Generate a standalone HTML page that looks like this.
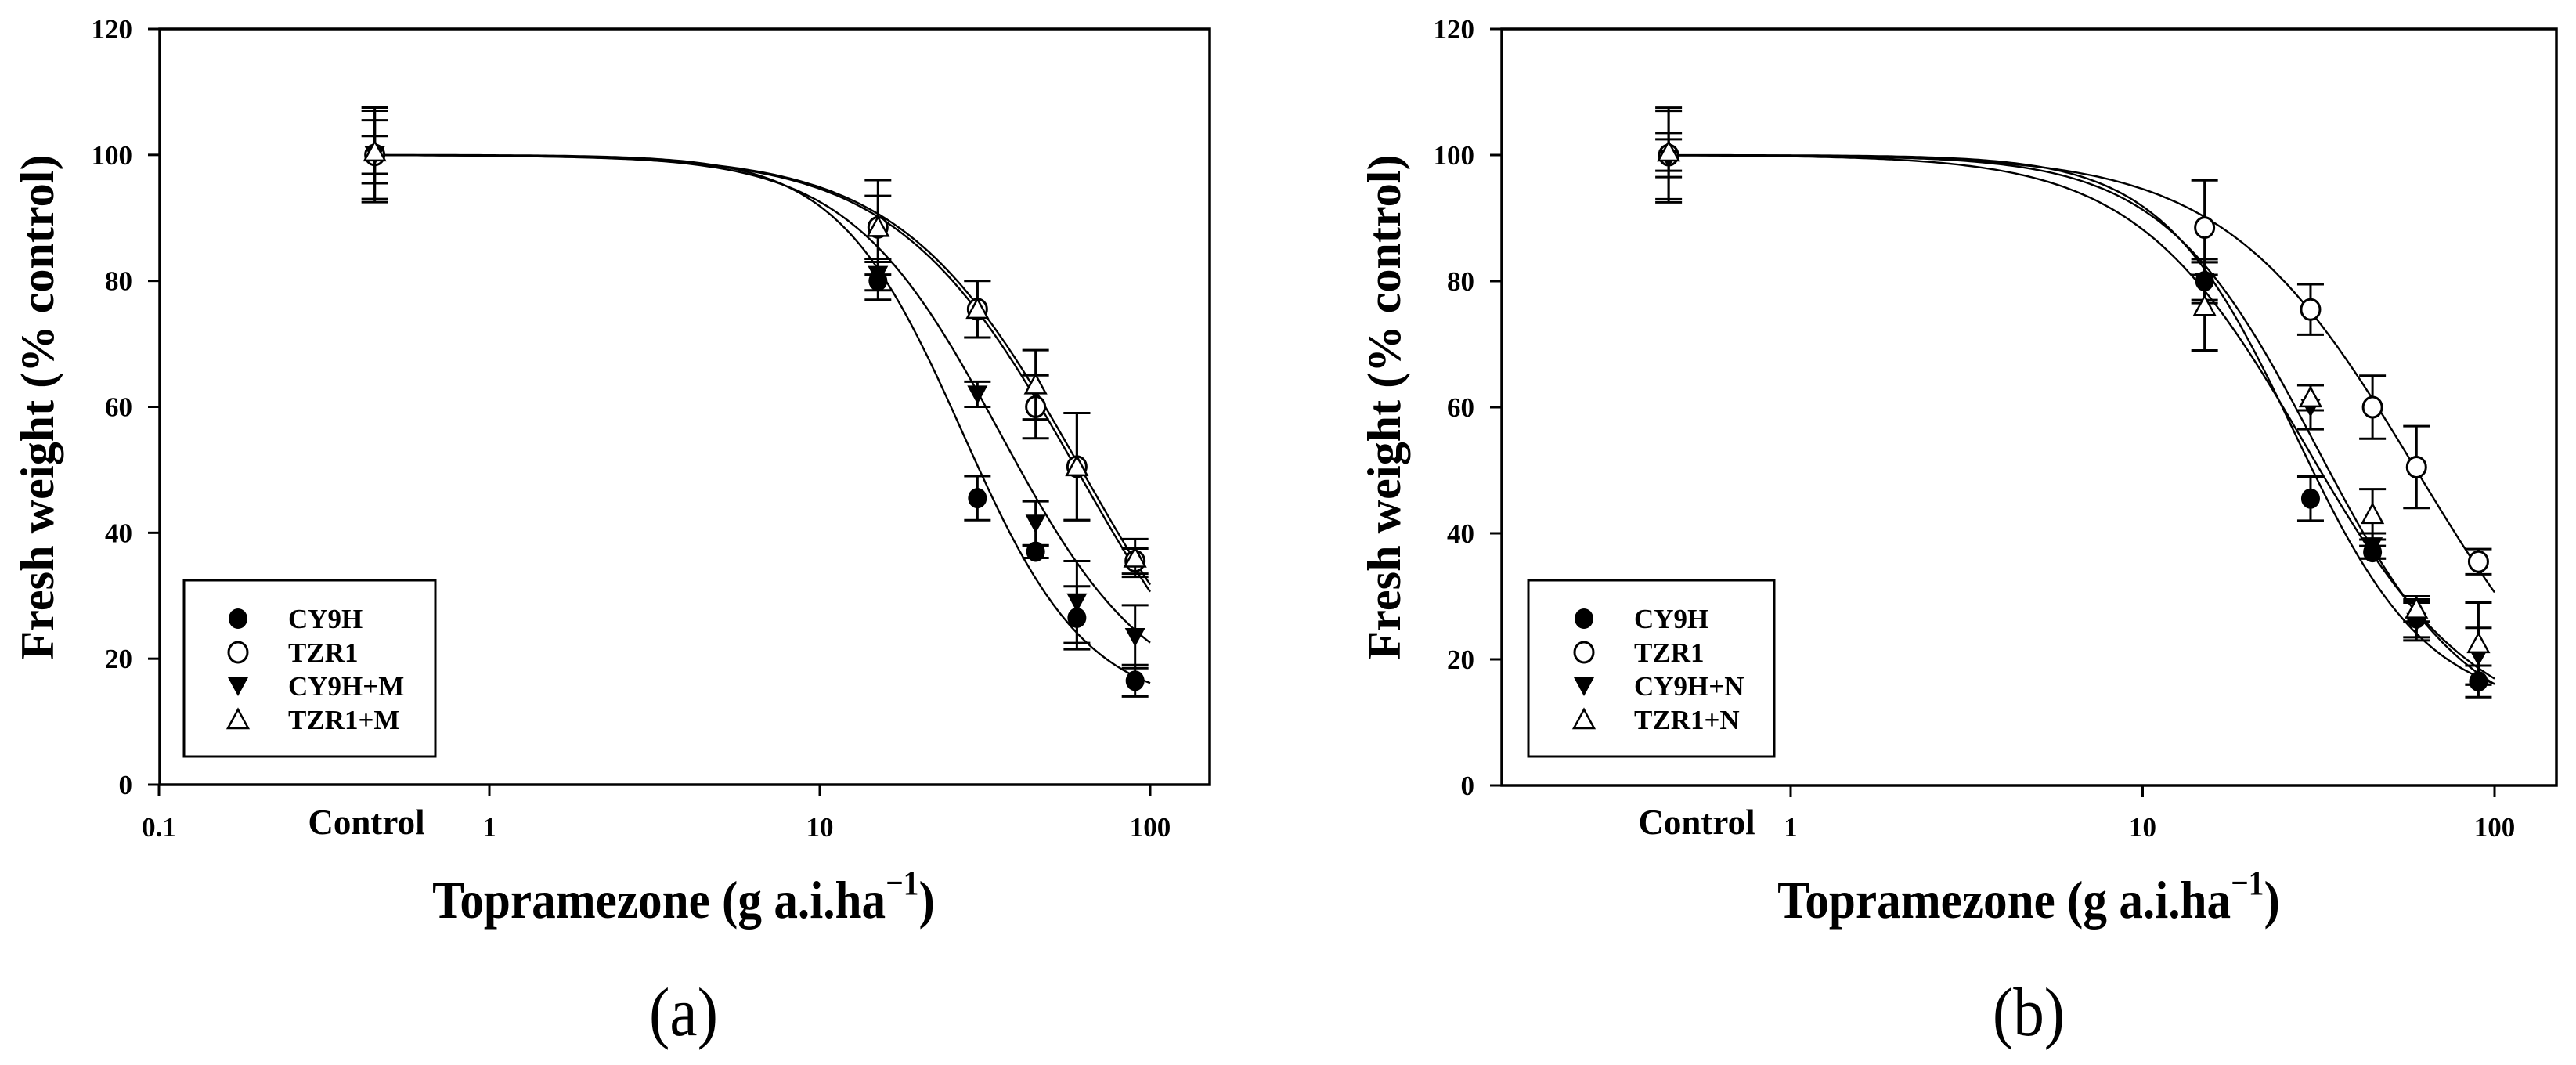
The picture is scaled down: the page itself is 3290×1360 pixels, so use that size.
<!DOCTYPE html>
<html><head><meta charset="utf-8"><style>
html,body{margin:0;padding:0;background:#fff;}
svg{display:block;}
text{font-family:"Liberation Serif",serif;fill:#000;}
</style></head>
<body>
<svg id="fig" width="3290" height="1360" viewBox="0 0 3290 1360" xmlns="http://www.w3.org/2000/svg"></svg>
<script>
// ---- data ----
const doses = [0.45, 15, 30, 45, 60, 90];
const yTicks = [0, 20, 40, 60, 80, 100, 120];
const xTicksA = [0.1, 1, 10, 100];
const xTicksB = [1, 10, 100];
const seriesA = ["CY9H", "TZR1", "CY9H+M", "TZR1+M"];
const seriesB = ["CY9H", "TZR1", "CY9H+N", "TZR1+N"];
const markers = ["filled-circle", "open-circle", "filled-tri-down", "open-tri-up"];
const a_cy9h = [100, 80, 45.5, 37, 26.5, 16.5];
const a_cy9h_err = [7, 3, 3.5, 1, 5, 2.5];
const a_tzr1 = [100, 88.5, 75.5, 60, 50.5, 35.5];
const a_tzr1_err = [7.5, 7.5, 4.5, 5, 8.5, 2];
const a_cy9hm = [100, 81, 62, 41.5, 29, 23.5];
const a_cy9hm_err = [3, 2.5, 2, 3.5, 6.5, 5];
const a_tzr1m = [100.5, 88.5, 75.5, 63.5, 50.5, 36];
const a_tzr1m_err = [5, 5, 4.5, 5.5, 8.5, 3];
const b_cy9h = [100, 80, 45.5, 37, 26.5, 16.5];
const b_cy9h_err = [7, 3, 3.5, 1, 3, 2.5];
const b_tzr1 = [100, 88.5, 75.5, 60, 50.5, 35.5];
const b_tzr1_err = [7.5, 7.5, 4, 5, 6.5, 2];
const b_cy9hn = [99.5, 80, 60, 38, 26, 20.5];
const b_cy9hn_err = [3, 3.5, 3.5, 2, 3, 4.5];
const b_tzr1n = [100.5, 76, 61.5, 43, 28, 22.5];
const b_tzr1n_err = [3, 7, 2, 4, 2, 6.5];
// fitted curves: [lower, upper, ED50, slope]
const fitA = [[12, 100, 27, 2.3], [0, 100, 60, 1.6], [12, 100, 35, 1.9], [0, 100, 62, 1.6]];
const fitB = [[12, 100, 27, 2.3], [0, 100, 60, 1.6], [8, 100, 31, 2.0], [8, 100, 29, 1.8]];

const NS = "http://www.w3.org/2000/svg";
const svg = document.getElementById("fig");
function el(tag, attrs, parent, txt) {
  const e = document.createElementNS(NS, tag);
  for (const k in attrs) e.setAttribute(k, attrs[k]);
  if (txt !== undefined) e.textContent = txt;
  (parent || svg).appendChild(e);
  return e;
}

function panel(cfg) {
  const g = el("g", {});
  
  
  const X = v => cfg.x1 + cfg.dec * Math.log10(v);
  const Y = v => cfg.bottom - (cfg.bottom - cfg.top) * v / 120;
  const fr = el("rect", {x: cfg.left, y: cfg.top, width: cfg.right - cfg.left, height: cfg.bottom - cfg.top, fill: "none", stroke: "#000", "stroke-width": 3.5}, g);
  
  
  yTicks.forEach(t => {
    const tk = el("line", {x1: cfg.left - 15, x2: cfg.left, y1: Y(t), y2: Y(t), stroke: "#000", "stroke-width": 3}, g);
    
    
    const lb = el("text", {x: cfg.left - 35, y: Y(t) + 12, "text-anchor": "end", "font-size": 35, "font-weight": "bold"}, g, String(t));
    
    
  });
  cfg.xticks.forEach(t => {
    const tk = el("line", {x1: X(t), x2: X(t), y1: cfg.bottom, y2: cfg.bottom + 15, stroke: "#000", "stroke-width": 3}, g);
    
    
    const lb = el("text", {x: X(t), y: 1068, "text-anchor": "middle", "font-size": 35, "font-weight": "bold"}, g, String(t));
    
    
  });
  const cl = el("text", {x: cfg.controlX, y: 1065, "text-anchor": "middle", "font-size": 45, "font-weight": "bold"}, g, "Control");
  
  
  cfg.fits.forEach((f, i) => {
    let d = "";
    const lo = Math.log10(doses[0]), hi = 2;
    for (let k = 0; k <= 200; k++) {
      const lx = lo + (hi - lo) * k / 200, x = Math.pow(10, lx);
      const y = f[0] + (f[1] - f[0]) / (1 + Math.pow(x / f[2], f[3]));
      d += (k ? "L" : "M") + X(x).toFixed(1) + "," + Y(y).toFixed(1);
    }
    const c = el("path", {d: d, fill: "none", stroke: "#000", "stroke-width": 2.4}, g);
    
    
  });
  cfg.data.forEach((vals, i) => {
    const errs = cfg.errs[i];
    vals.forEach((v, j) => {
      const x = X(doses[j]), yu = Y(v + errs[j]), yd = Y(v - errs[j]);
      const eb = el("path", {d: `M${x},${yu}V${yd}M${x - 17},${yu}H${x + 17}M${x - 17},${yd}H${x + 17}`, stroke: "#000", "stroke-width": 3, fill: "none"}, g);
      
      
      const m = drawMarker(g, markers[i], x, Y(v));
      
      
    });
  });
  const lg = el("g", {}, g);
  
  
  el("rect", {x: cfg.leg[0], y: 741, width: cfg.leg[1] - cfg.leg[0], height: 225, fill: "#fff", stroke: "#000", "stroke-width": 3}, lg);
  cfg.series.forEach((s, i) => {
    const ly = 790 + i * 43;
    const m = drawMarker(lg, markers[i], cfg.leg[2], ly);
    
    
    const t = el("text", {x: cfg.leg[3], y: ly + 12, "font-size": 35, "font-weight": "bold"}, lg, s);
    
    
  });
  const yt = el("text", {x: 0, y: 0, transform: `translate(${cfg.ytx},${520}) rotate(-90)`, "text-anchor": "middle", "font-size": 60, "font-weight": "bold", textLength: 645, lengthAdjust: "spacingAndGlyphs"}, g, "Fresh weight (% control)");
  
  
  const xt = el("text", {x: 0, y: 0, transform: `translate(${cfg.xtx},1172) scale(0.9,1)`, "text-anchor": "middle", "font-size": 68, "font-weight": "bold"}, g);
  
  
  el("tspan", {}, xt, "Topramezone (g a.i.ha");
  el("tspan", {dy: -30, "font-size": 44}, xt, "\u22121");
  el("tspan", {dy: 30}, xt, ")");
  const pl = el("text", {x: 0, y: 0, transform: `translate(${cfg.xtx},1322) scale(0.9,1)`, "text-anchor": "middle", "font-size": 88}, g, cfg.label);
  
  
}

function drawMarker(parent, type, x, y) {
  if (type === "filled-circle") return el("ellipse", {cx: x, cy: y, rx: 12, ry: 13, fill: "#000"}, parent);
  if (type === "open-circle") return el("ellipse", {cx: x, cy: y, rx: 12, ry: 13, fill: "#fff", stroke: "#000", "stroke-width": 3}, parent);
  if (type === "filled-tri-down") return el("path", {d: `M${x - 13},${y - 11}H${x + 13}L${x},${y + 13}Z`, fill: "#000"}, parent);
  return el("path", {d: `M${x - 13},${y + 11}H${x + 13}L${x},${y - 13}Z`, fill: "#fff", stroke: "#000", "stroke-width": 2.5}, parent);
}

panel({name: "panel-a", left: 204, right: 1545, top: 37, bottom: 1002, x1: 625, dec: 422, xticks: xTicksA,
  controlX: 468, series: seriesA, fits: fitA,
  data: [a_cy9h, a_tzr1, a_cy9hm, a_tzr1m], errs: [a_cy9h_err, a_tzr1_err, a_cy9hm_err, a_tzr1m_err],
  leg: [235, 556, 304, 368], ytx: 68, xtx: 873, label: "(a)"});
panel({name: "panel-b", left: 1918, right: 3265, top: 37, bottom: 1003, x1: 2287, dec: 449.5, xticks: xTicksB,
  controlX: 2167, series: seriesB, fits: fitB,
  data: [b_cy9h, b_tzr1, b_cy9hn, b_tzr1n], errs: [b_cy9h_err, b_tzr1_err, b_cy9hn_err, b_tzr1n_err],
  leg: [1952, 2266, 2023, 2087], ytx: 1788, xtx: 2591, label: "(b)"});
</script>
</body></html>
